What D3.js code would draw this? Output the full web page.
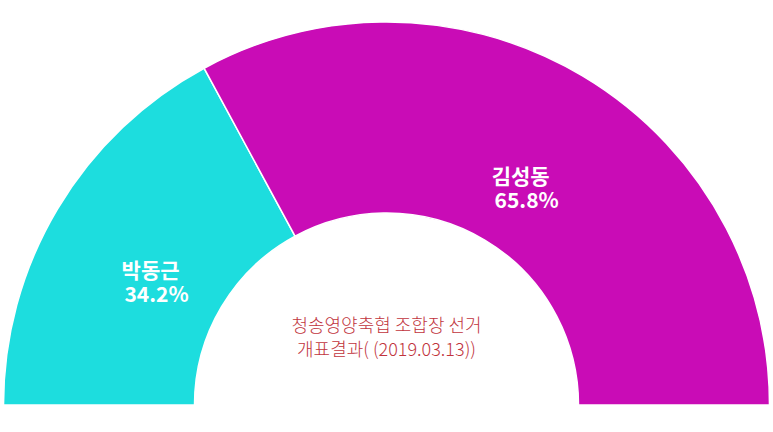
<!DOCTYPE html>
<html>
<head>
<meta charset="utf-8">
<script src="https://cdn.jsdelivr.net/npm/d3@7"></script>
<style>
  html, body { margin: 0; padding: 0; background: #fff; }
  svg { display: block; font-family: "Noto Sans CJK KR", "Noto Sans", sans-serif; }
  .slice-lbl { fill: #fff; font-weight: bold; font-size: 21px; }
  .title { fill: #c1343d; font-size: 18px; font-weight: 300; }
</style>
</head>
<body>
<svg id="chart" width="773" height="432"></svg>
<script>
// Candidates and vote shares (%)
const names = ['박동근', '김성동'];
const shares = [34.2, 65.8];
const colors = ['#1dddde', '#c90cb6'];
const titleLines = ['청송영양축협 조합장 선거', '개표결과( (2019.03.13))'];

const W = 773, H = 432;
const cx = 386.5, cy = 405;
const outerR = 383, innerR = 192;

const svg = d3.select('#chart');
const g = svg.append('g').attr('transform', `translate(${cx},${cy})`);

// half donut: left (-90deg) to right (+90deg)
const pie = d3.pie()
  .sort(null)
  .startAngle(-Math.PI / 2)
  .endAngle(Math.PI / 2)
  .value(d => d);

const arc = d3.arc().innerRadius(innerR).outerRadius(outerR);
const lblArc = d3.arc().innerRadius(270).outerRadius(270);

const arcs = pie(shares);

g.selectAll('path.slice')
  .data(arcs)
  .join('path')
  .attr('class', 'slice')
  .attr('d', arc)
  .attr('fill', (d, i) => colors[i])
  .attr('stroke', '#fff')
  .attr('stroke-width', 1.5);

// slice labels: name + percent, second line nudged right
arcs.forEach((d, i) => {
  const c = lblArc.centroid(d);
  g.append('text')
    .attr('class', 'slice-lbl')
    .attr('text-anchor', 'middle')
    .attr('x', c[0] - 4).attr('y', c[1] + 11)
    .text(names[i]);
  g.append('text')
    .attr('class', 'slice-lbl')
    .attr('text-anchor', 'middle')
    .attr('x', c[0] + 2).attr('y', c[1] + 35)
    .text(shares[i].toFixed(1) + '%');
});

// centre title
g.append('text')
  .attr('class', 'title')
  .attr('text-anchor', 'middle')
  .selectAll('tspan')
  .data(titleLines)
  .join('tspan')
  .attr('x', 0)
  .attr('y', (d, i) => -73 + i * 24)
  .text(d => d);
</script>
</body>
</html>
